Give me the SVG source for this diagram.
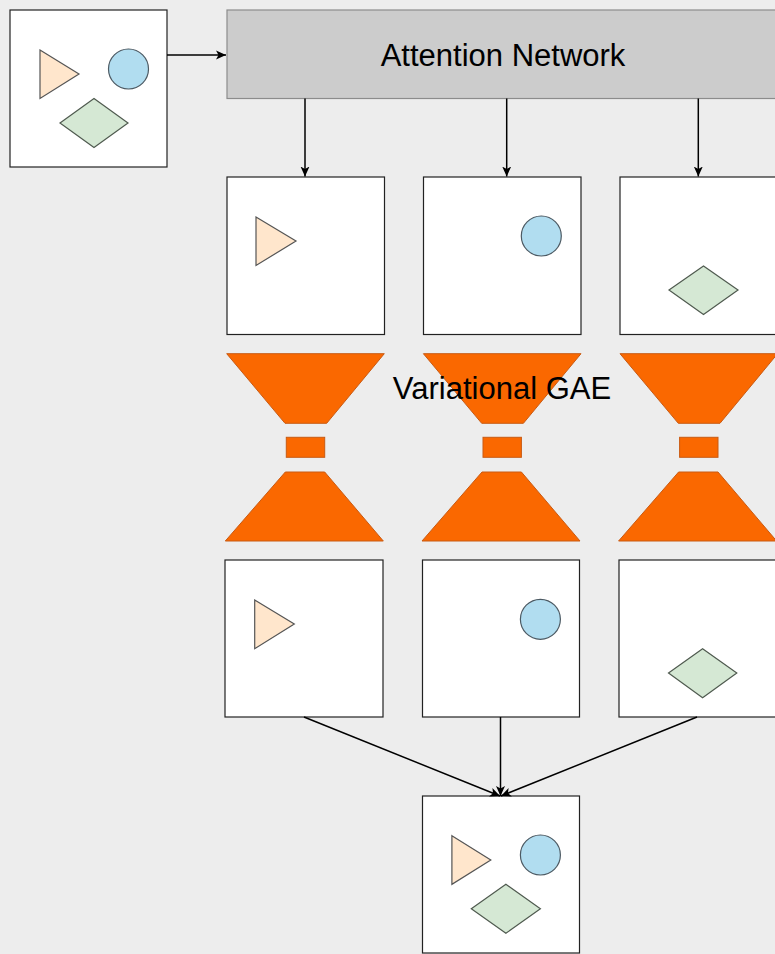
<svg xmlns="http://www.w3.org/2000/svg" width="775" height="954" viewBox="0 0 775 954">
<defs>
<style>
.box{fill:#ffffff;stroke:#222;stroke-width:1.2}
.tri{fill:#ffe6cc;stroke:#555;stroke-width:1.2}
.cir{fill:#b1ddf0;stroke:#4d5a63;stroke-width:1.2}
.dia{fill:#d5e8d4;stroke:#4f5a4f;stroke-width:1.2}
.org{fill:#fa6800;stroke:#c95a12;stroke-width:1}
.edge{fill:none;stroke:#000;stroke-width:1.5}
.lbl{font-family:"Liberation Sans",Arial,sans-serif;font-size:31px;fill:#000;text-anchor:middle}
</style>
<marker id="ah" viewBox="0 0 10 10" refX="10" refY="5" markerWidth="10" markerHeight="10" markerUnits="userSpaceOnUse" orient="auto">
<path d="M0,0.5 L10,5 L0,9.5 L2.5,5 Z" fill="#000"/>
</marker>
</defs>
<rect x="0" y="0" width="775" height="954" fill="#ededed"/>

<g id="input">
<rect class="box" x="10" y="10" width="157" height="157"/>
<polygon class="tri" points="40,50 79,74 40,98.5"/>
<circle class="cir" cx="128.5" cy="69" r="20"/>
<polygon class="dia" points="60,123 94,98.5 128,123 94,147.5"/>
</g>

<g id="attention">
<rect x="227" y="10" width="560" height="88.5" fill="#cccccc" stroke="#8c8c8c" stroke-width="1.2"/>
<text class="lbl" x="503" y="66">Attention Network</text>
</g>

<g id="in1">
<rect class="box" x="227" y="177" width="157.5" height="157.5"/>
<polygon class="tri" points="256,217 296,241 256,265.5"/>
</g>
<g id="in2">
<rect class="box" x="423.5" y="177" width="157.5" height="157.5"/>
<circle class="cir" cx="541.3" cy="236" r="20"/>
</g>
<g id="in3">
<rect class="box" x="620" y="177" width="157.5" height="157.5"/>
<polygon class="dia" points="669,290 703.5,266 738,290 703.5,314.5"/>
</g>

<g id="vgae1">
<polygon class="org" points="226.7,353.7 384.3,353.7 326.7,423.3 285,423.3"/>
<rect class="org" x="286.3" y="437.3" width="38.4" height="20"/>
<polygon class="org" points="285.3,472 324.7,472 383.3,541 225.3,541"/>
</g>
<g id="vgae2">
<polygon class="org" points="423.4,353.7 581,353.7 523.4,423.3 481.7,423.3"/>
<rect class="org" x="483" y="437.3" width="38.4" height="20"/>
<polygon class="org" points="482,472 521.4,472 580,541 422,541"/>
</g>
<g id="vgae3">
<polygon class="org" points="620,353.7 777.6,353.7 720,423.3 678.3,423.3"/>
<rect class="org" x="679.6" y="437.3" width="38.4" height="20"/>
<polygon class="org" points="678.6,472 718,472 776.6,541 618.6,541"/>
</g>
<g id="vgae-label">
<text class="lbl" x="502" y="399">Variational GAE</text>
</g>

<g id="out1">
<rect class="box" x="225" y="560" width="158" height="157"/>
<polygon class="tri" points="254.7,600 294.3,624 254.7,648.7"/>
</g>
<g id="out2">
<rect class="box" x="422.5" y="560" width="157" height="157"/>
<circle class="cir" cx="540.4" cy="619.3" r="20"/>
</g>
<g id="out3">
<rect class="box" x="619" y="560" width="158" height="157"/>
<polygon class="dia" points="668.5,673 702.6,648.7 736.8,673 702.6,697.7"/>
</g>

<g id="merged">
<rect class="box" x="422.5" y="796" width="157" height="157"/>
<polygon class="tri" points="451.9,835.7 490.8,860 451.9,884.3"/>
<circle class="cir" cx="540.4" cy="855" r="20"/>
<polygon class="dia" points="471.3,908.8 505.9,884.3 540.4,908.8 505.9,933.3"/>
</g>

<g id="connectors">
<line class="edge" x1="167" y1="55" x2="226" y2="55" marker-end="url(#ah)"/>
<line class="edge" x1="305" y1="98.5" x2="305" y2="176.5" marker-end="url(#ah)"/>
<line class="edge" x1="506.7" y1="98.5" x2="506.7" y2="176.5" marker-end="url(#ah)"/>
<line class="edge" x1="698.3" y1="98.5" x2="698.3" y2="176.5" marker-end="url(#ah)"/>
<line class="edge" x1="304" y1="717" x2="500" y2="796" marker-end="url(#ah)"/>
<line class="edge" x1="500.5" y1="717" x2="500.5" y2="796" marker-end="url(#ah)"/>
<line class="edge" x1="697" y1="717" x2="501" y2="796" marker-end="url(#ah)"/>
</g>
</svg>
